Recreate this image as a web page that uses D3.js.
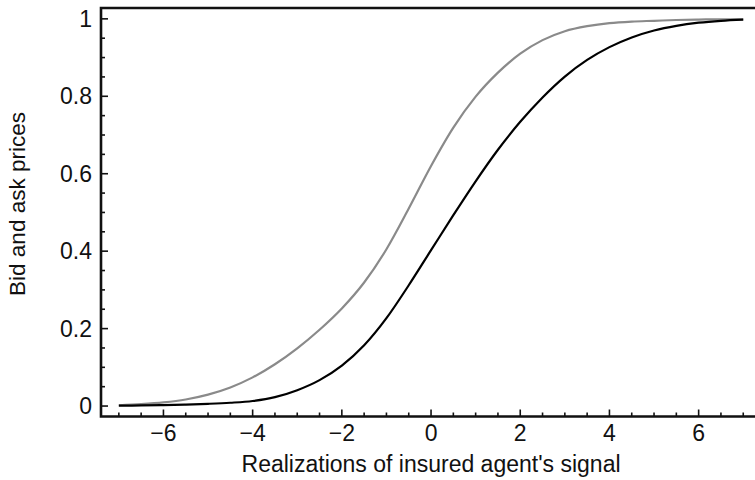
<!DOCTYPE html>
<html>
<head>
<meta charset="utf-8">
<script src="https://cdn.jsdelivr.net/npm/d3@7"></script>
<style>
  body { margin: 0; background: #fff; }
  text { font-family: "Liberation Sans", Arial, sans-serif; fill: #111; }
</style>
</head>
<body>
<script>
// signal realizations (x) and the two price curves
var signal = [-7, -6.5, -6, -5.5, -5, -4.5, -4, -3.5, -3, -2.5, -2, -1.5, -1, -0.5, 0,
  0.5, 1, 1.5, 2, 2.5, 3, 3.5, 4, 4.5, 5, 5.5, 6, 6.5, 7];
var askPrice = [0.002, 0.005, 0.0095, 0.017, 0.0295, 0.048, 0.074, 0.108, 0.149, 0.197, 0.252,
  0.319, 0.405, 0.51, 0.62, 0.719, 0.799, 0.861, 0.91, 0.945, 0.968, 0.981, 0.989, 0.993, 0.995, 0.997, 0.998, 0.999, 0.999];
var bidPrice = [0.001, 0.0016, 0.0025, 0.0039, 0.0058, 0.0085, 0.013, 0.023, 0.041, 0.067, 0.1045,
  0.157, 0.227, 0.312, 0.4025, 0.493, 0.5805, 0.662, 0.734, 0.797, 0.851, 0.894, 0.927, 0.952, 0.97, 0.982, 0.99, 0.995, 0.998];
var xTicks = [-6, -4, -2, 0, 2, 4, 6];
var yTicks = [0, 0.2, 0.4, 0.6, 0.8, 1];

var width = 755, height = 480;
var margin = {top: 8, left: 101, bottom: 416.5};

var svg = d3.select("body").append("svg")
  .attr("width", width)
  .attr("height", height);

var x = d3.scaleLinear().domain([-7.4, 7.4]).range([margin.left, margin.left + 14.8 * 44.6]);
var y = d3.scaleLinear().domain([-0.027, 1.028]).range([margin.bottom, margin.top]);

// minor ticks
var xMinor = d3.range(-7, 7.01, 0.5);
var yMinor = d3.range(0, 1.001, 0.05);

var ticks = svg.append("g").attr("stroke", "#111").attr("stroke-width", 1.6);
ticks.selectAll("line.xm").data(xMinor).enter().append("line")
  .attr("x1", d => x(d)).attr("x2", d => x(d))
  .attr("y1", margin.bottom).attr("y2", d => margin.bottom - (xTicks.indexOf(Math.round(d * 10) / 10) >= 0 ? 7 : 4));
ticks.selectAll("line.ym").data(yMinor).enter().append("line")
  .attr("y1", d => y(d)).attr("y2", d => y(d))
  .attr("x1", margin.left).attr("x2", d => margin.left + (Math.abs(d * 5 - Math.round(d * 5)) < 1e-6 ? 7 : 4));

// frame
svg.append("path")
  .attr("d", "M" + x(7.4) + "," + margin.top + "H" + margin.left + "V" + margin.bottom + "H" + x(7.4))
  .attr("fill", "none").attr("stroke", "#111").attr("stroke-width", 2.6);

// tick labels
svg.selectAll("text.xt").data(xTicks).enter().append("text")
  .attr("x", d => x(d)).attr("y", 441)
  .attr("text-anchor", "middle")
  .attr("font-size", 23)
  .text(d => d < 0 ? "\u2212" + Math.abs(d) : d);

svg.selectAll("text.yt").data(yTicks).enter().append("text")
  .attr("x", 92).attr("y", d => y(d) + 8.2)
  .attr("text-anchor", "end")
  .attr("font-size", 23)
  .text(d => d);

// axis titles
svg.append("text")
  .attr("x", x(0)).attr("y", 472)
  .attr("text-anchor", "middle")
  .attr("font-size", 23)
  .text("Realizations of insured agent's signal");

svg.append("text")
  .attr("transform", "translate(25," + 204 + ") rotate(-90)")
  .attr("text-anchor", "middle")
  .attr("font-size", 22.5)
  .text("Bid and ask prices");

// curves
var line = function(vals) {
  return d3.line()
    .x((d, i) => x(signal[i]))
    .y(d => y(d))
    .curve(d3.curveMonotoneX)(vals);
};

svg.append("path").attr("d", line(askPrice))
  .attr("fill", "none").attr("stroke", "#8a8a8a").attr("stroke-width", 2.2);
svg.append("path").attr("d", line(bidPrice))
  .attr("fill", "none").attr("stroke", "#000").attr("stroke-width", 2.2);
</script>
</body>
</html>
